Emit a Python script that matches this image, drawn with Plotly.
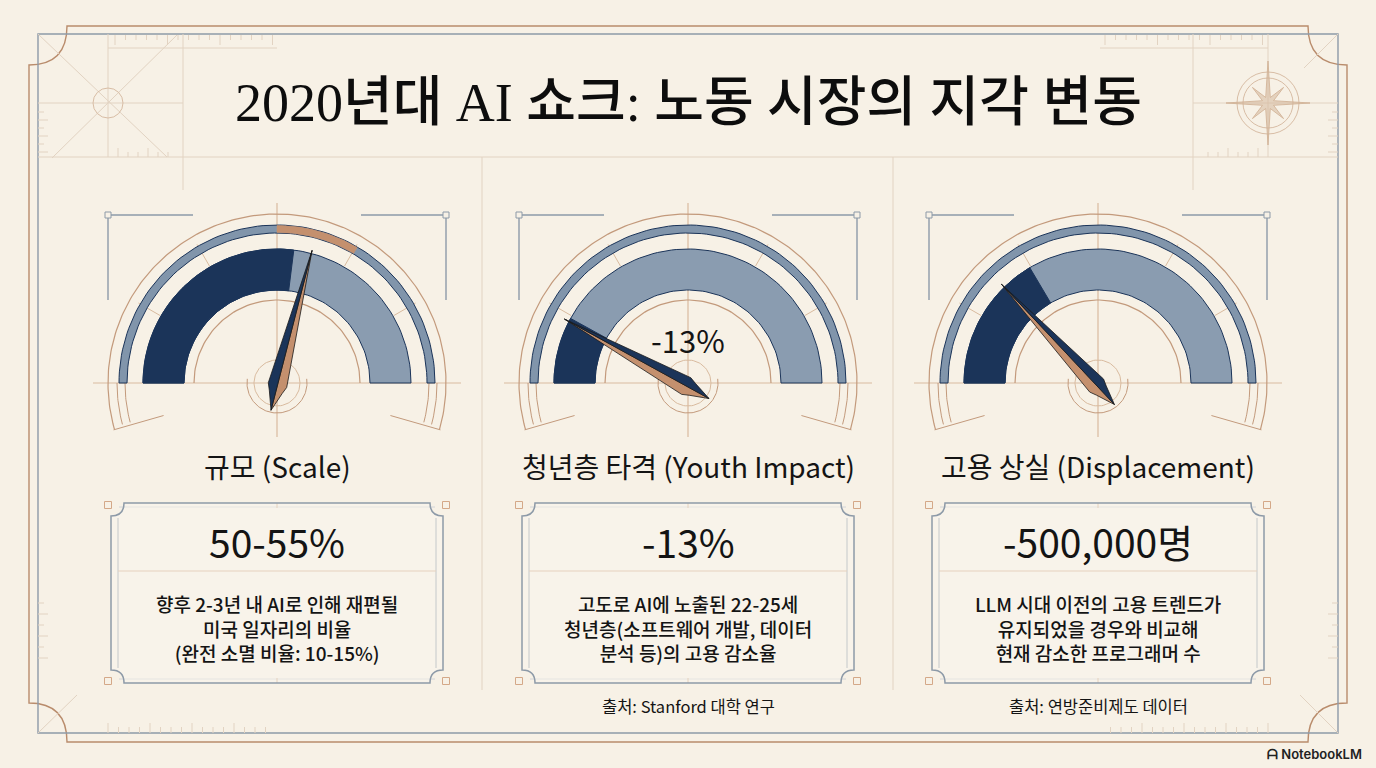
import numpy as np
import plotly.graph_objects as go

# ---- data ----
title = "2020년대 AI 쇼크: 노동 시장의 지각 변동"
gauge_titles = ["규모 (Scale)", "청년층 타격 (Youth Impact)", "고용 상실 (Displacement)"]
gauge_fill = [0.54, 0.16, 0.33]          # share of the main band drawn dark
needle_value = [0.58, 0.16, 0.26]        # needle position (0 = left, 1 = right)
ring_highlight = [[0.50, 0.67], [], []]  # copper segment on the outer ring
inner_labels = ["", "-13%", ""]
headlines = ["50-55%", "-13%", "-500,000명"]
descriptions = [
    ["향후 2-3년 내 AI로 인해 재편될", "미국 일자리의 비율", "(완전 소멸 비율: 10-15%)"],
    ["고도로 AI에 노출된 22-25세", "청년층(소프트웨어 개발, 데이터", "분석 등)의 고용 감소율"],
    ["LLM 시대 이전의 고용 트렌드가", "유지되었을 경우와 비교해", "현재 감소한 프로그래머 수"],
]
sources = ["", "출처: Stanford 대학 연구", "출처: 연방준비제도 데이터"]

# ---- style ----
W, H = 1376, 768
BG = "#f7f1e6"
NAVY = "#1b3459"
STEEL = "#8a9cb0"
RING = "#8195ab"
COPPER = "#c4906e"
COPPER_LT = "#d9bb9f"
COPPER_LN = "#c39a7c"
GRAY = "#8d9aa8"
INK = "#141414"
FONT = "Noto Sans CJK KR"

col_x = [277, 688, 1098]
cy = 383

fig = go.Figure()


def pt(cx, r, deg):
    a = np.radians(deg)
    return cx + r * np.cos(a), cy - r * np.sin(a)


def arc(cx, r, a0, a1, n=90):
    a = np.radians(np.linspace(a0, a1, n))
    return list(cx + r * np.cos(a)), list(cy - r * np.sin(a))


def poly(xs, ys, fill, line=NAVY, lw=1.0):
    fig.add_trace(go.Scatter(x=xs + [xs[0]], y=ys + [ys[0]], mode="lines", fill="toself",
                             fillcolor=fill, line=dict(color=line, width=lw),
                             hoverinfo="skip", showlegend=False))


def curve(xs, ys, color, lw=1.0):
    fig.add_trace(go.Scatter(x=xs, y=ys, mode="lines", line=dict(color=color, width=lw),
                             hoverinfo="skip", showlegend=False))


def band(cx, r_in, r_out, a0, a1, fill, line=NAVY, lw=1.0):
    xo, yo = arc(cx, r_out, a0, a1)
    xi, yi = arc(cx, r_in, a1, a0)
    poly(xo + xi, yo + yi, fill, line, lw)


def seg(x0, y0, x1, y1, color, lw=1.0):
    fig.add_shape(type="line", x0=x0, y0=y0, x1=x1, y1=y1, xref="x", yref="y",
                  line=dict(color=color, width=lw), layer="below")


def ang(f):
    return 180.0 * (1 - f)


# ---- page frame and decoration ----
fig.add_shape(type="path", xref="x", yref="y", layer="below",
              path="M 67,26 L 1308,26 Q 1308,65 1347,65 L 1347,703 Q 1308,703 1308,742 "
                   "L 67,742 Q 67,703 29,703 L 29,65 Q 67,65 67,26 Z",
              line=dict(color="#b98c6c", width=1.4))
fig.add_shape(type="rect", xref="x", yref="y", x0=38, y0=34, x1=1338, y1=733,
              line=dict(color=GRAY, width=1.4), layer="below")

faint = "#e2d3c2"
seg(38, 157, 1338, 157, faint)
for vx in (183, 1193):
    seg(vx, 34, vx, 190, faint)
for vx in (482, 893):
    seg(vx, 157, vx, 690, faint)
# top-left drafting lines
seg(38, 34, 167, 157, faint)
seg(177, 35, 52, 158, faint)
seg(38, 103, 183, 103, faint)
seg(108, 34, 108, 157, faint)
fig.add_shape(type="circle", xref="x", yref="y", x0=93, y0=88, x1=123, y1=118,
              line=dict(color="#d8bda5", width=1), layer="below")
# rulers
seg(108, 48, 277, 48, faint)
seg(1100, 48, 1268, 48, faint)
for k in range(16):
    tx = 115 + k * 10.5
    seg(tx, 35, tx, 40 if k % 5 else 45, faint)
    tx2 = 1105 + k * 10.5
    seg(tx2, 35, tx2, 40 if k % 5 else 45, faint)
for k in range(6):
    tx = 118 + k * 10
    seg(tx, 157, tx, 152 if k % 3 else 148, faint)
    seg(1376 - tx, 157, 1376 - tx, 152 if k % 3 else 148, faint)
for k in range(6):
    ty = 112 + k * 8
    seg(38, ty, 48 if k % 2 else 44, ty, faint)
    seg(1338, ty, 1328 if k % 2 else 1332, ty, faint)
    ty2 = 603 + k * 11
    seg(38, ty2, 48 if k % 2 else 44, ty2, faint)
    seg(1338, ty2, 1328 if k % 2 else 1332, ty2, faint)
for k in range(16):
    tx = 108 + k * 10.5
    seg(tx, 733, tx, 727 if k % 4 else 723, faint)
    seg(1376 - tx, 733, 1376 - tx, 727 if k % 4 else 723, faint)
# corner diagonals
seg(1338, 34, 1304, 68, faint)
seg(38, 733, 77, 695, faint)
seg(1338, 733, 1300, 695, faint)
seg(1193, 103, 1338, 103, faint)
seg(1268, 34, 1268, 157, faint)

# compass rose
ccx, ccy = 1268, 103
for r in (31, 25):
    fig.add_shape(type="circle", xref="x", yref="y", x0=ccx - r, y0=ccy - r, x1=ccx + r, y1=ccy + r,
                  line=dict(color="#d8bda5", width=1), layer="below")
sx, sy = [], []
for k in range(16):
    a = np.radians(k * 22.5)
    r = 42 if k % 4 == 0 else (22 if k % 2 == 0 else 6)
    sx.append(ccx + r * np.cos(a))
    sy.append(ccy - r * np.sin(a))
poly(sx, sy, "rgba(214,184,156,0.55)", "#cfae92", 0.8)

# ---- gauges ----
for i, cx in enumerate(col_x):
    # outer copper arc and its tails
    xs, ys = arc(cx, 169, -16, 196, 200)
    curve(xs, ys, COPPER_LN, 1.2)
    for r in (160, 152):
        xs, ys = arc(cx, r, 180, 195, 20)
        curve(xs, ys, COPPER_LN, 1)
        xs, ys = arc(cx, r, 0, -15, 20)
        curve(xs, ys, COPPER_LN, 1)
    for a in (196, -16):
        x0, y0 = pt(cx, 118, a)
        x1, y1 = pt(cx, 170, a)
        seg(x0, y0, x1, y1, COPPER_LN, 1)

    # cross hair
    seg(cx - 184, cy, cx + 184, cy, COPPER_LT, 1.2)
    seg(cx, cy - 180, cx, cy + 54, COPPER_LT, 1.2)

    # outer ring
    band(cx, 150, 158, 0, 180, RING)
    if ring_highlight[i]:
        h0, h1 = ring_highlight[i]
        band(cx, 150.5, 157.5, ang(h1), ang(h0), COPPER, COPPER, 0.5)

    # main band
    band(cx, 93, 134, 0, 180, STEEL)
    band(cx, 93, 134, ang(gauge_fill[i]), 180, NAVY)

    # ticks across ring
    for a in (30, 60, 120, 150):
        x0, y0 = pt(cx, 135, a)
        x1, y1 = pt(cx, 160, a)
        seg(x0, y0, x1, y1, COPPER_LT, 1)

    # inner arc + hub
    xs, ys = arc(cx, 83, 0, 180)
    curve(xs, ys, COPPER_LN, 1.2)
    xs, ys = arc(cx, 30, 172, 368)
    curve(xs, ys, COPPER_LN, 1)
    xs, ys = arc(cx, 23, 0, 360)
    curve(xs, ys, COPPER_LT, 1)

    # corner brackets
    for s in (-1, 1):
        bx, by = cx + s * 169, cy - 168
        seg(bx, by, cx + s * 84, by, GRAY, 1.4)
        seg(bx, by, bx, cy - 83, GRAY, 1.4)
        fig.add_shape(type="rect", xref="x", yref="y", x0=bx - 3, y0=by - 3, x1=bx + 3, y1=by + 3,
                      line=dict(color=GRAY, width=1), fillcolor=BG)

    if inner_labels[i]:
        fig.add_annotation(x=cx, y=cy - 44, text=inner_labels[i], showarrow=False,
                           font=dict(family=FONT, size=31, color=INK))

    # needle
    th = ang(needle_value[i])
    d = np.array([np.cos(np.radians(th)), -np.sin(np.radians(th))])
    nrm = np.array([-d[1], d[0]])
    side = 1 if th < 90 else -1
    base = np.array([cx, cy + 4])
    L, w = 141, 9.5

    def P(r, o):
        p = base + d * r + nrm * o
        return float(p[0]), float(p[1])

    for sgn, colr in ((side, COPPER), (-side, NAVY)):
        pts = [P(L, 0), P(12, sgn * w), P(2, sgn * w), P(-5, sgn * w * 0.7), P(-24, 0)]
        poly([p[0] for p in pts], [p[1] for p in pts], colr, "#1a1a1a", 0.8)

    # title under gauge
    fig.add_annotation(x=cx, y=466, text=gauge_titles[i], showarrow=False,
                       font=dict(family=FONT, size=28, color=INK))

    # info box
    x0, x1, y0, y1, r = cx - 166, cx + 166, 503, 683, 13
    fig.add_shape(type="path", xref="x", yref="y",
                  path=f"M {x0 + r},{y0} L {x1 - r},{y0} Q {x1 - r},{y0 + r} {x1},{y0 + r} "
                       f"L {x1},{y1 - r} Q {x1 - r},{y1 - r} {x1 - r},{y1} "
                       f"L {x0 + r},{y1} Q {x0 + r},{y1 - r} {x0},{y1 - r} "
                       f"L {x0},{y0 + r} Q {x0 + r},{y0 + r} {x0 + r},{y0} Z",
                  line=dict(color=GRAY, width=1.5), fillcolor="rgba(250,246,238,0.5)")
    seg(x0 + 7, y0 + r + 2, x0 + 7, y1 - r - 2, GRAY, 1)
    seg(x1 - 7, y0 + r + 2, x1 - 7, y1 - r - 2, GRAY, 1)
    seg(x0 + 8, y0 + 4, x1 - 8, y0 + 4, "#c9ced4", 0.8)
    seg(x0 + 8, y1 - 4, x1 - 8, y1 - 4, "#c9ced4", 0.8)
    seg(x0 + 7, 571, x1 - 7, 571, "#d2ae8e", 1.2)
    seg(cx, y0, cx, y0 + 5, "#d2ae8e", 1)
    seg(cx, y1, cx, y1 - 5, "#d2ae8e", 1)
    for qx in (x0 - 3, x1 + 3):
        for qy in (y0 + 2, y1 - 2):
            fig.add_shape(type="rect", xref="x", yref="y", x0=qx - 3.5, y0=qy - 3.5,
                          x1=qx + 3.5, y1=qy + 3.5, line=dict(color="#d4a888", width=1))

    fig.add_annotation(x=cx, y=541, text=headlines[i], showarrow=False,
                       font=dict(family=FONT, size=39, color=INK))
    fig.add_annotation(x=cx, y=628, text="<br>".join(descriptions[i]), showarrow=False,
                       font=dict(family=FONT, size=19, color=INK, weight=500))
    if sources[i]:
        fig.add_annotation(x=cx, y=706, text=sources[i], showarrow=False,
                           font=dict(family=FONT, size=16.5, color=INK))

# ---- headline and footer ----
fig.add_annotation(x=688, y=103, text=title, showarrow=False,
                   font=dict(family="Liberation Serif, " + FONT, size=54, color="#0d0d0d", weight=500))
fig.add_annotation(x=1364, y=754, text="<b>ᗩ</b> NotebookLM", showarrow=False, xanchor="right",
                   font=dict(family="Inter, Roboto", size=13, color="#222222", weight=600))

fig.update_layout(
    width=W, height=H, margin=dict(l=0, r=0, t=0, b=0),
    paper_bgcolor=BG, plot_bgcolor=BG, showlegend=False,
    xaxis=dict(range=[0, W], visible=False, fixedrange=True),
    yaxis=dict(range=[H, 0], visible=False, fixedrange=True),
)

fig.write_html("out.html", config={"displayModeBar": False, "staticPlot": True},
               post_script="document.body.style.margin='0';document.body.style.overflow='hidden';")
